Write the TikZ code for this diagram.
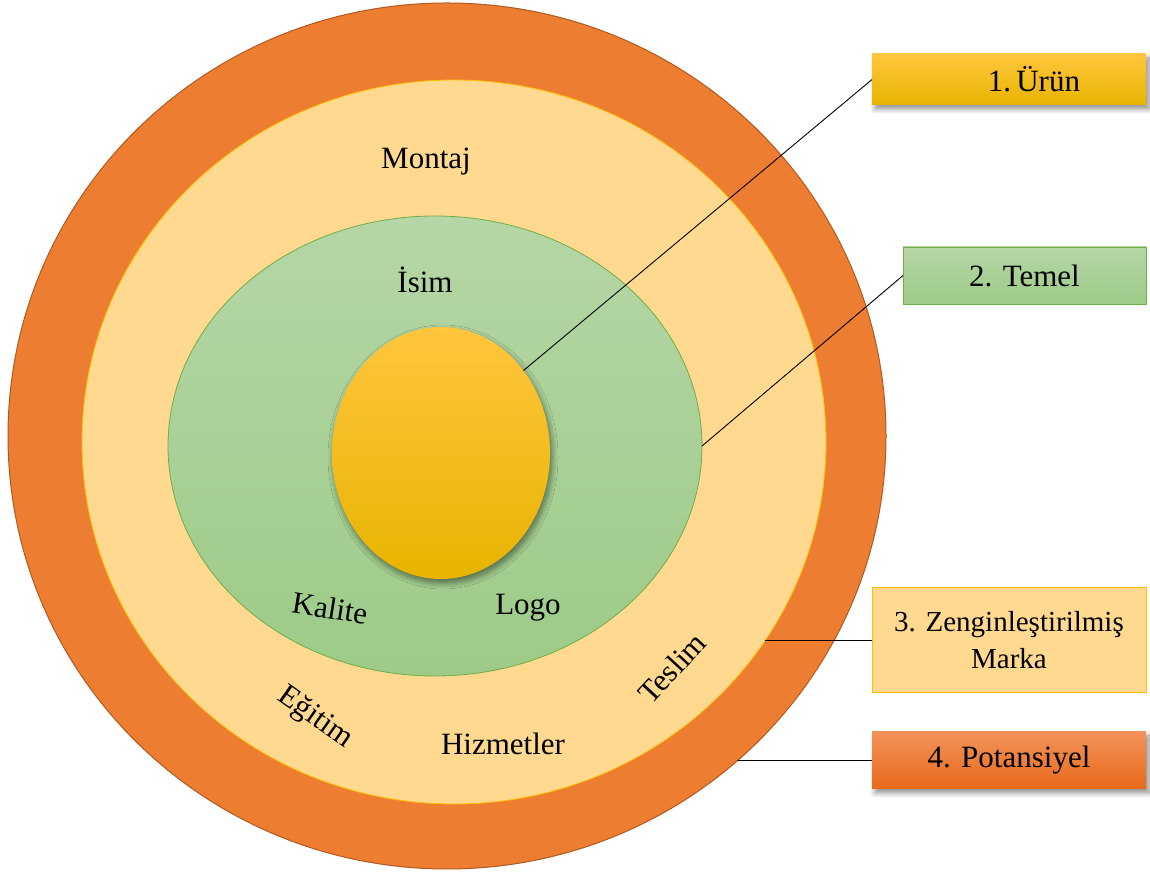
\documentclass[tikz,border=0pt]{standalone}
\usepackage{fontspec}
\setmainfont{Liberation Serif}
\usetikzlibrary{shapes.geometric,shadows.blur,intersections}

\definecolor{potFill}{HTML}{ED7D31}
\definecolor{potEdge}{HTML}{AE5A21}
\definecolor{zenFill}{HTML}{FFD990}
\definecolor{zenEdge}{HTML}{FFC000}
\definecolor{temTop}{HTML}{B5D6A6}
\definecolor{temBot}{HTML}{9DCB87}
\definecolor{temEdge}{HTML}{70AD47}
\definecolor{urTop}{HTML}{FFC63E}
\definecolor{urMid}{HTML}{FFC000}
\definecolor{urBot}{HTML}{E8B400}
\definecolor{poTop}{HTML}{F2935A}
\definecolor{poBot}{HTML}{E8691A}

\tikzset{
  layer/.style={ellipse, inner sep=0pt, outer sep=0pt},
  lbl/.style={font=\fontsize{31}{36}\selectfont, inner sep=0pt},
  tag/.style={rectangle, inner sep=0pt, outer sep=0pt, minimum width=274pt,
              font=\fontsize{31}{36}\selectfont, align=center},
  softshadow/.style={blur shadow={shadow xshift=3pt, shadow yshift=-4pt,
              shadow blur steps=8, shadow blur radius=5pt, shadow opacity=45}},
  haloshadow/.style={blur shadow={shadow xshift=2pt, shadow yshift=-4pt,
              shadow blur steps=10, shadow blur radius=6pt, shadow opacity=50}},
  link/.style={draw=black, line width=0.9pt}
}

\begin{document}
\begin{tikzpicture}[x=1pt,y=1pt]
\useasboundingbox (0,0) rectangle (1150,872);

% concentric layers of the product
\node[layer, name path=outerP, fill=potFill, draw=potEdge, line width=1pt,
      minimum width=878pt, minimum height=866pt] (outer) at (447,436) {};
\node[layer, name path=enhP, fill=zenFill, draw=zenEdge, line width=0.8pt,
      minimum width=744pt, minimum height=724pt] (enh) at (454,430) {};
\node[layer, top color=temTop, bottom color=temBot, draw=temEdge, line width=0.8pt,
      minimum width=534pt, minimum height=460pt] (basic) at (435,426) {};
\node[layer, top color=urTop, middle color=urMid, bottom color=urBot, haloshadow,
      minimum width=218pt, minimum height=252pt] (core) at (441,419) {};

% words inside the layers
\node[lbl, anchor=base] (montaj) at (426,703) {Montaj};
\node[lbl, anchor=base] (isim) at (425,579) {İsim};
\node[lbl, rotate=-9] (kalite) at (330,264) {Kalite};
\node[lbl, anchor=base] (logo) at (528,257) {Logo};
\node[lbl, rotate=47] (teslim) at (672,204) {Teslim};
\node[lbl, rotate=-35] (egitim) at (315,154) {Eğitim};
\node[lbl, anchor=base] (hizmet) at (503,117) {Hizmetler};

% legend boxes
\node[tag, minimum height=51pt, top color=urTop, middle color=urMid, bottom color=urBot,
      softshadow] (b1) at (1009,792.5) {\hspace*{50pt}1.\,Ürün};
\node[tag, minimum width=243pt, minimum height=57pt, top color=temTop, bottom color=temBot,
      draw=temEdge, line width=0.8pt] (b2) at (1024.5,596.5) {2. Temel};
\node[tag, minimum height=105pt, fill=zenFill, draw=zenEdge, line width=1pt,
      font=\fontsize{29}{37}\selectfont] (b3) at (1009,231.5) {3. Zenginleştirilmiş\\Marka};
\node[tag, minimum height=57pt, top color=poTop, bottom color=poBot,
      softshadow] (b4) at (1009,111.5) {4. Potansiyel};

% horizontal leaders meet the rings where they cross them
\path[name path=ray3] (b3.west) -- ++(-400,0);
\path[name path=ray4] (b4.west) -- ++(-400,0);
\path[name intersections={of=enhP and ray3, by=p3}];
\path[name intersections={of=outerP and ray4, by=p4}];

% leader lines
\draw[link] (core.45) -- (b1.west);
\draw[link] (basic.east) -- (b2.west);
\draw[link] (p3) -- (b3.west);
\draw[link] (p4) -- (b4.west);
\end{tikzpicture}
\end{document}
